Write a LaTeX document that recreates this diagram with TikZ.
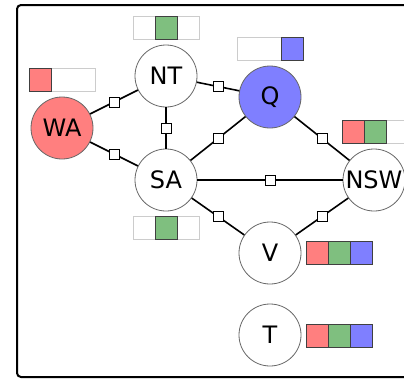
\documentclass[tikz,border=0pt]{standalone}
\usepackage{fontspec}
\setmainfont{DejaVu Sans}
\usepackage{xcolor}
\usetikzlibrary{positioning}

\definecolor{redc}{HTML}{FF7F7F}
\definecolor{greenc}{HTML}{7FBF7F}
\definecolor{bluec}{HTML}{7F7FFF}

% one domain: light outline, then three cells in a row
\newcommand\domainbar[5]{%
  \draw[black!20, line width=0.9pt] ([shift={(-11,-11.5)}]#2) rectangle ++(66,23);
  \node[#3] (#1-1) at (#2) {};
  \node[#4, right=0pt of #1-1] (#1-2) {};
  \node[#5, right=0pt of #1-2] (#1-3) {};}

\begin{document}
\begin{tikzpicture}[x=1pt, y=-1pt,
    var/.style={draw=black!60, line width=0.8pt, circle, minimum size=62pt, inner sep=0pt,
                font=\fontsize{24}{24}\selectfont},
    factor/.style={draw, fill=white, line width=0.6pt, minimum size=10pt, inner sep=0pt},
    edge/.style={line width=1.6pt},
    cell/.style={minimum width=22pt, minimum height=23pt, inner sep=0pt, outer sep=0pt, line width=0.9pt},
    empty/.style={cell},
    rc/.style={cell, draw=black!75, fill=redc},
    gc/.style={cell, draw=black!75, fill=greenc},
    bc/.style={cell, draw=black!75, fill=bluec}]
    \useasboundingbox (0,0) rectangle (404,380);
    \clip (0,0) rectangle (404,380);

    % frame
    \draw[line width=2pt, rounded corners=4pt] (17,5) rectangle (430,377);

    % regions
    \node[var, fill=redc] (wa) at (62,128) {WA};
    \node[var] (nt) at (166,76) {NT};
    \node[var, fill=bluec] (q) at (270,97) {Q};
    \node[var] (sa) at (166,180) {SA};
    \node[var] (nsw) at (374,180) {NSW};
    \node[var] (v) at (270,253) {V};
    \node[var] (t) at (270,335) {T};

    % constraints
    \draw[edge] (wa) -- node[factor] {} (nt);
    \draw[edge] (wa) -- node[factor] {} (sa);
    \draw[edge] (nt) -- node[factor] {} (sa);
    \draw[edge] (nt) -- node[factor] {} (q);
    \draw[edge] (sa) -- node[factor] {} (q);
    \draw[edge] (q) -- node[factor] {} (nsw);
    \draw[edge] (sa) -- node[factor] {} (nsw);
    \draw[edge] (sa) -- node[factor] {} (v);
    \draw[edge] (nsw) -- node[factor] {} (v);

    % domains
    \domainbar{wad}{40,79.5}{rc}{empty}{empty}
    \domainbar{ntd}{144,27.5}{empty}{gc}{empty}
    \domainbar{qd}{248,48.5}{empty}{empty}{bc}
    \domainbar{nswd}{353,132}{rc}{gc}{empty}
    \domainbar{sad}{144,228}{empty}{gc}{empty}
    \domainbar{vd}{317,252.5}{rc}{gc}{bc}
    \domainbar{td}{317,336}{rc}{gc}{bc}
\end{tikzpicture}
\end{document}
